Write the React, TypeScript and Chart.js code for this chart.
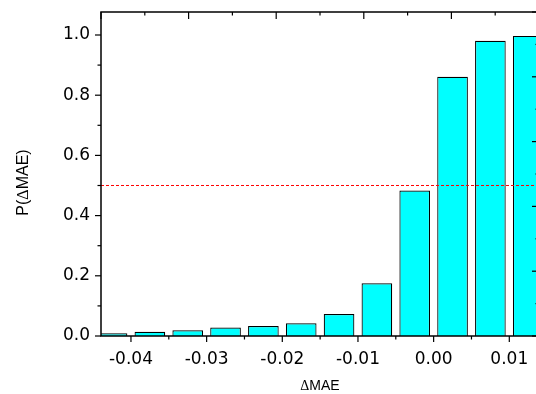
import React, { useEffect, useRef } from "react";
import { Chart, registerables } from "chart.js";

Chart.register(...registerables);

// ---- data ----
const BIN_CENTERS = [-0.0425, -0.0375, -0.0325, -0.0275, -0.0225, -0.0175, -0.0125, -0.0075, -0.0025, 0.0025, 0.0075, 0.0125];
const PROBABILITIES = [0.009, 0.014, 0.019, 0.028, 0.033, 0.042, 0.073, 0.175, 0.483, 0.861, 0.981, 0.997];
const REFERENCE_LEVEL = 0.5;
const X_MIN = -0.04396;
const X_MAX = 0.013925;
const Y_MIN = 0;
const Y_MAX = 1.0764;
const X_TICK_STEP = 0.01;
const Y_TICK_STEP = 0.2;
const X_TITLE = [{ text: "Δ", serif: true }, { text: "MAE", serif: false }];
const Y_TITLE = [{ text: "P(", serif: false }, { text: "Δ", serif: true }, { text: "MAE)", serif: false }];

const CANVAS_W = 548;
const CANVAS_H = 394;
const AREA_LEFT = 101;
const AREA_RIGHT = 539;
const AREA_TOP = 12;
const AREA_BOTTOM = 336;
const TICK_FONT = { family: "'DejaVu Sans', sans-serif", size: 17 };

type Part = { text: string; serif: boolean };

function drawParts(ctx: CanvasRenderingContext2D, parts: Part[], size: number, cx: number, baseY: number) {
  const fontOf = (p: Part) => `${size}px ${p.serif ? "'Liberation Serif', serif" : "'Liberation Sans', Arial, sans-serif"}`;
  let total = 0;
  const widths = parts.map((p) => {
    ctx.font = fontOf(p);
    const w = ctx.measureText(p.text).width;
    total += w;
    return w;
  });
  let x = cx - total / 2;
  ctx.textAlign = "left";
  ctx.textBaseline = "alphabetic";
  parts.forEach((p, i) => {
    ctx.font = fontOf(p);
    ctx.fillText(p.text, x, baseY);
    x += widths[i];
  });
}

const framePlugin = {
  id: "originFrame",
  afterDraw(chart: any) {
    const { ctx, chartArea: a, scales } = chart;
    const xs = scales.x;
    const ys = scales.y;
    const w = a.right - a.left;
    const h = a.bottom - a.top;
    ctx.save();
    ctx.strokeStyle = "#000";
    ctx.fillStyle = "#000";
    ctx.lineWidth = 1.5;
    ctx.strokeRect(a.left, a.top, w, h);
    ctx.lineWidth = 1.2;
    const line = (x1: number, y1: number, x2: number, y2: number) => {
      ctx.beginPath();
      ctx.moveTo(x1, y1);
      ctx.lineTo(x2, y2);
      ctx.stroke();
    };
    // bottom ticks (outward)
    const half = X_TICK_STEP / 2;
    for (let k = Math.ceil(X_MIN / half - 1e-9); k * half <= X_MAX + 1e-9; k++) {
      const px = xs.getPixelForValue(k * half);
      const major = Math.abs(k % 2) === 0;
      line(px, a.bottom, px, a.bottom + (major ? 6 : 3.5));
    }
    // left ticks (outward)
    const yhalf = Y_TICK_STEP / 2;
    for (let k = 0; k * yhalf <= Y_MAX + 1e-9; k++) {
      const py = ys.getPixelForValue(k * yhalf);
      const major = k % 2 === 0;
      line(a.left, py, a.left - (major ? 6 : 3.5), py);
    }
    // top ticks (inward), secondary axis 0..5
    for (let i = 0; i <= 10; i++) {
      const px = a.left + (i * w) / 10;
      line(px, a.top, px, a.top + (i % 2 === 0 ? 7 : 3.5));
    }
    // right ticks (inward), secondary axis 0..5
    for (let i = 0; i <= 10; i++) {
      const py = a.bottom - (i * h) / 10;
      line(a.right, py, a.right - (i % 2 === 0 ? 7 : 3.5), py);
    }
    // axis titles
    drawParts(ctx, X_TITLE, 14, 320, 389.5);
    ctx.translate(27.5, 182.5);
    ctx.rotate(-Math.PI / 2);
    drawParts(ctx, Y_TITLE, 16, 0, 0);
    ctx.restore();
  },
};

export default function App() {
  const ref = useRef<HTMLCanvasElement>(null);
  useEffect(() => {
    if (!ref.current) return;
    const chart = new Chart(ref.current, {
      type: "bar",
      data: {
        datasets: [
          {
            type: "line",
            data: [
              { x: X_MIN, y: REFERENCE_LEVEL },
              { x: X_MAX, y: REFERENCE_LEVEL },
            ],
            borderColor: "#ff0000",
            borderWidth: 1,
            borderDash: [3, 2],
            pointRadius: 0,
            order: 1,
          } as any,
          {
            type: "bar",
            data: BIN_CENTERS.map((c, i) => ({ x: c, y: PROBABILITIES[i] })),
            backgroundColor: "#00ffff",
            borderColor: "#000000",
            borderWidth: 1.2,
            barPercentage: 0.81,
            categoryPercentage: 1,
            order: 2,
          } as any,
        ],
      },
      options: {
        responsive: false,
        animation: false,
        devicePixelRatio: 1,
        layout: { padding: { left: 0, top: AREA_TOP, right: CANVAS_W - AREA_RIGHT, bottom: 0 } },
        plugins: { legend: { display: false }, tooltip: { enabled: false } },
        scales: {
          x: {
            type: "linear",
            offset: false,
            min: X_MIN,
            max: X_MAX,
            afterFit: (s: any) => {
              s.height = CANVAS_H - AREA_BOTTOM;
              s.paddingLeft = 0;
              s.paddingRight = 0;
            },
            grid: { display: false, drawTicks: false, offset: false },
            border: { display: false },
            ticks: {
              stepSize: X_TICK_STEP,
              includeBounds: false,
              autoSkip: false,
              maxRotation: 0,
              padding: 13,
              color: "#000",
              font: TICK_FONT,
              callback: (v: any) => Number(v).toFixed(2),
            },
          },
          y: {
            type: "linear",
            min: Y_MIN,
            max: Y_MAX,
            afterFit: (s: any) => {
              s.width = AREA_LEFT;
              s.paddingTop = 0;
              s.paddingBottom = 0;
            },
            grid: { display: false, drawTicks: false },
            border: { display: false },
            ticks: {
              stepSize: Y_TICK_STEP,
              includeBounds: false,
              autoSkip: false,
              padding: 11,
              color: "#000",
              font: TICK_FONT,
              callback: (v: any) => Number(v).toFixed(1),
            },
          },
        },
      } as any,
      plugins: [framePlugin],
    });
    return () => chart.destroy();
  }, []);
  return (
    <div style={{ position: "absolute", left: 0, top: 0, width: 536, height: 394, overflow: "hidden", background: "#fff" }}>
      <canvas ref={ref} width={CANVAS_W} height={CANVAS_H} style={{ width: CANVAS_W, height: CANVAS_H, display: "block" }} />
    </div>
  );
}
